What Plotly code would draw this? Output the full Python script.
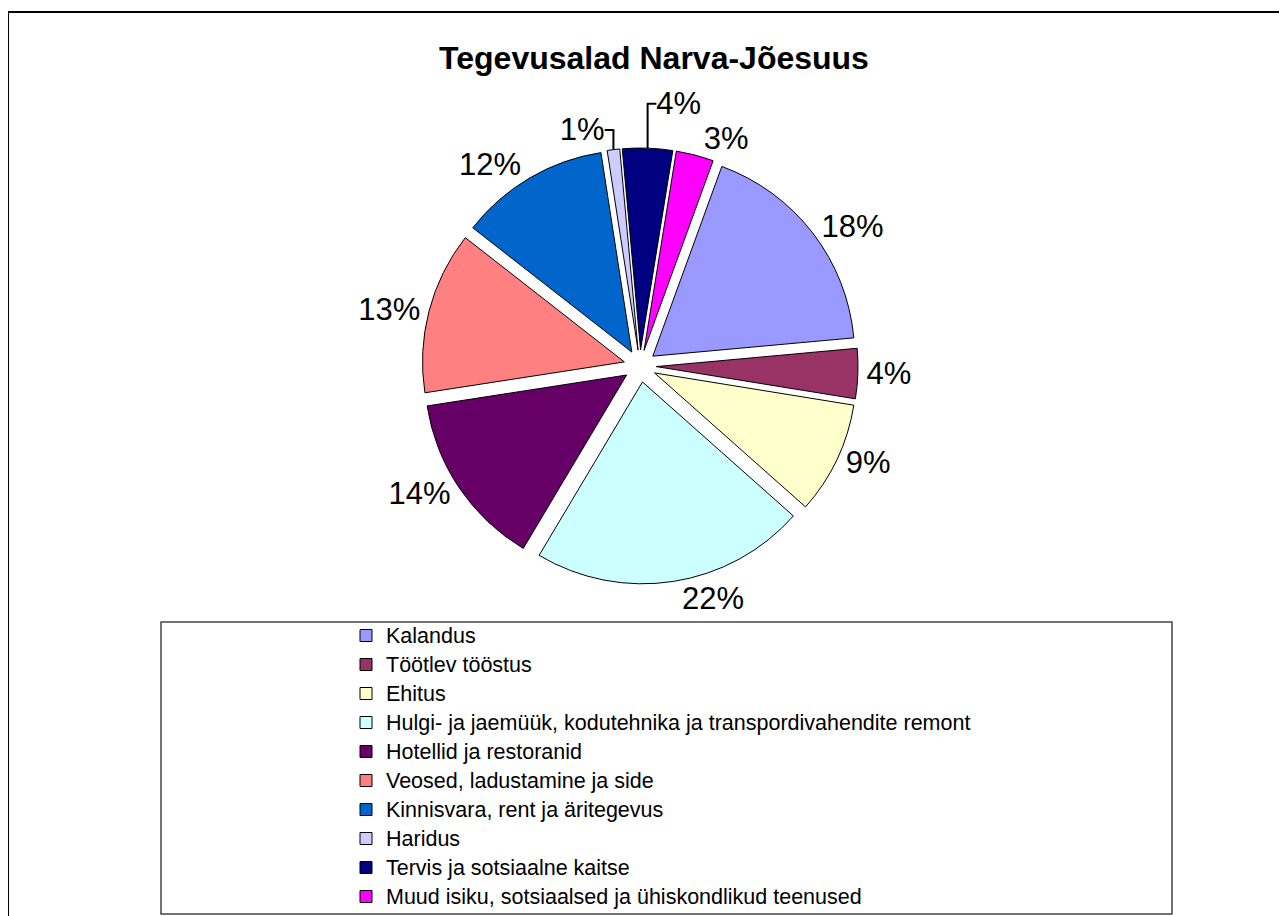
import plotly.graph_objects as go

categories = [
    "Kalandus",
    "Töötlev tööstus",
    "Ehitus",
    "Hulgi- ja jaemüük, kodutehnika ja transpordivahendite remont",
    "Hotellid ja restoranid",
    "Veosed, ladustamine ja side",
    "Kinnisvara, rent ja äritegevus",
    "Haridus",
    "Tervis ja sotsiaalne kaitse",
    "Muud isiku, sotsiaalsed ja ühiskondlikud teenused",
]
values = [18, 4, 9, 22, 14, 13, 12, 1, 4, 3]
colors = ["#9999FF", "#993366", "#FFFFCC", "#CCFFFF", "#660066",
          "#FF8080", "#0066CC", "#CCCCFF", "#000080", "#FF00FF"]
title_text = "Tegevusalad Narva-Jõesuus"

W, H = 1287, 916
FONT = "Liberation Sans, Arial, sans-serif"

def px_x(p):
    return p / W

def px_y(p):
    return 1 - p / H

legend_labels = ['<span style="font-size:21.5px">%s</span>' % c for c in categories]

fig = go.Figure(go.Pie(
    labels=legend_labels,
    values=values,
    sort=False,
    direction="clockwise",
    rotation=20,
    pull=[0.08] * len(values),
    marker=dict(colors=colors, line=dict(color="black", width=1)),
    textinfo="percent",
    texttemplate="%{percent:.0%}",
    textposition="outside",
    textfont=dict(family=FONT, size=31, color="black"),
    domain=dict(x=[px_x(414), px_x(850)], y=[px_y(576), px_y(140)]),
    hovertemplate="%{label}: %{value}<extra></extra>",
))

fig.update_layout(
    width=W, height=H,
    margin=dict(l=0, r=0, t=0, b=0, autoexpand=False),
    paper_bgcolor="white",
    plot_bgcolor="white",
    font=dict(family=FONT, color="black"),
    title=dict(text="<b>%s</b>" % title_text, x=px_x(646), y=px_y(50),
               xanchor="center", yanchor="middle",
               font=dict(size=32, color="black")),
    showlegend=True,
    legend=dict(x=px_x(338), y=px_y(608), xanchor="left", yanchor="top",
                font=dict(size=20, color="black"),
                bgcolor="rgba(0,0,0,0)", borderwidth=0,
                itemclick=False),
    shapes=[
        dict(type="rect", xref="paper", yref="paper",
             x0=0, x1=1.05, y0=-0.05, y1=px_y(4),
             line=dict(color="black", width=2), fillcolor="rgba(0,0,0,0)", layer="below"),
        dict(type="rect", xref="paper", yref="paper",
             x0=px_x(153), x1=px_x(1164), y0=px_y(906), y1=px_y(614),
             line=dict(color="#444444", width=1.5), fillcolor="rgba(0,0,0,0)", layer="below"),
    ],
)

fig.write_html("out.html")
